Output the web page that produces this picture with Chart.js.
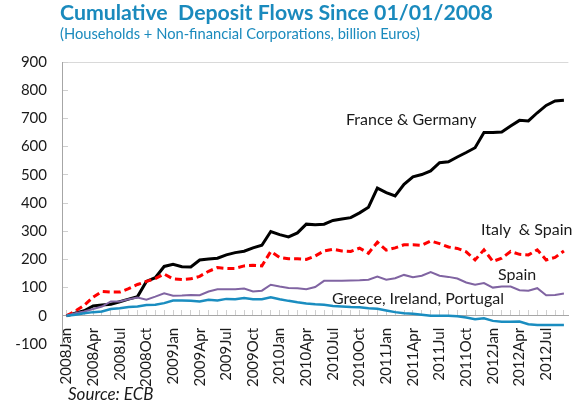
<!DOCTYPE html>
<html><head><meta charset="utf-8">
<script src="https://cdn.jsdelivr.net/npm/chart.js@4"></script>
<style>
html,body{margin:0;padding:0;background:#fff;overflow:hidden;width:586px;height:402px}
#wrap{position:relative;width:586px;height:402px;overflow:hidden}
#c{position:absolute;left:0;top:0}
.t{position:absolute;white-space:nowrap;font-family:Lato,sans-serif;color:#1a8abd;line-height:1}
.lbl{position:absolute;white-space:nowrap;font-family:Lato,sans-serif;color:#1a1a1a;font-size:16px;line-height:1}
</style></head>
<body><div id="wrap">
<canvas id="c" width="600" height="402" style="width:600px;height:402px"></canvas>
<div class="t" style="left:60px;top:2px;font-size:21.3px;font-weight:bold">Cumulative&nbsp; Deposit Flows Since 01/01/2008</div>
<div class="t" style="left:60px;top:26px;font-size:14.7px">(Households + Non-financial Corporations, billion Euros)</div>
<div class="lbl" style="left:346px;top:111px">France &amp; Germany</div>
<div class="lbl" style="left:481px;top:221px">Italy&nbsp; &amp; Spain</div>
<div class="lbl" style="left:498px;top:266px">Spain</div>
<div class="lbl" style="left:332px;top:290px">Greece, Ireland, Portugal</div>
<div class="lbl" style="left:68px;top:385px;font-style:italic;font-size:17px">Source: ECB</div>
</div>
<script>
const months = ['Jan','Feb','Mar','Apr','May','Jun','Jul','Aug','Sep','Oct','Nov','Dec'];
const categories = [];
for (let y = 2008; y <= 2012; y++) for (let m = 0; m < 12; m++) { if (y === 2012 && m > 8) break; categories.push(y + months[m]); }

const franceGermany = [0,9,18,35,38,41,50,59,68,122,135,175,183,174,173,198,201,204,216,224,229,241,250,299,288,280,294,325,323,325,338,343,348,365,385,453,437,425,466,493,501,514,543,546,563,579,596,650,650,652,673,693,691,720,746,762,764];
const italySpain = [0,17,37,66,86,84,84,96,111,122,132,148,131,129,131,140,158,171,168,168,177,179,177,228,207,202,202,200,212,230,236,230,228,240,222,261,233,241,252,252,250,265,256,244,239,227,198,234,193,204,228,218,216,234,198,207,230];
const spain = [0,9,15,24,33,51,51,59,65,57,68,80,71,72,74,73,86,94,94,94,97,86,89,110,104,99,98,94,102,124,124,124,125,126,128,139,128,133,145,137,142,155,142,138,132,118,110,116,100,104,104,91,89,98,73,74,79];
const greeceIrelandPortugal = [0,4,9,13,15,24,27,31,33,38,39,45,54,54,53,51,57,54,60,59,63,59,59,66,59,53,48,44,41,39,35,33,31,30,27,25,19,13,9,7,4,0,0,0,-2,-6,-12,-9,-18,-21,-21,-20,-30,-33,-33,-33,-33];
const yMin = -100, yMax = 900, yStep = 100;

new Chart(document.getElementById('c'), {
  type: 'line',
  data: {
    labels: categories,
    datasets: [
      {label:'Greece, Ireland, Portugal', data: greeceIrelandPortugal, borderColor:'#1a8dc0', borderWidth:2.5, pointRadius:0, tension:0},
      {label:'Spain', data: spain, borderColor:'#8064a2', borderWidth:2, pointRadius:0, tension:0},
      {label:'Italy & Spain', data: italySpain, borderColor:'#ff0000', borderWidth:3, borderDash:[7,4], pointRadius:0, tension:0},
      {label:'France & Germany', data: franceGermany, borderColor:'#000000', borderWidth:3, pointRadius:0, tension:0}
    ]
  },
  options: {
    responsive:false, animation:false, devicePixelRatio:1,
    layout:{padding:{top:62,right:9,bottom:58,left:0}},
    plugins:{legend:{display:false}, tooltip:{enabled:false}},
    scales:{
      x:{
        type:'category', position:{y:0}, offset:true,
        afterFit(s){ s.height = 0; },
        border:{display:true, color:'#a6a6a6', width:1},
        grid:{display:true, drawOnChartArea:false, drawTicks:true, tickLength:-6, tickColor:'#cfcfcf', offset:false},
        ticks:{autoSkip:false, maxRotation:90, minRotation:90, padding:18, color:'#1a1a1a',
          font:{family:'Lato', size:15},
          callback(v, i){ return i % 3 === 0 ? this.getLabelForValue(v) : ''; }}
      },
      y:{
        min:yMin, max:yMax,
        afterFit(s){ s.width = 62; },
        border:{display:true, color:'#a6a6a6', width:1},
        grid:{color:(c)=> (c.tick && c.tick.value === yMax) ? '#d9d9d9' : 'rgba(0,0,0,0)', tickColor:'#cfcfcf', tickLength:-6, drawTicks:true},
        ticks:{stepSize:yStep, padding:21, color:'#1a1a1a', font:{family:'Lato', size:15}}
      }
    }
  }
});
</script>
</body></html>
